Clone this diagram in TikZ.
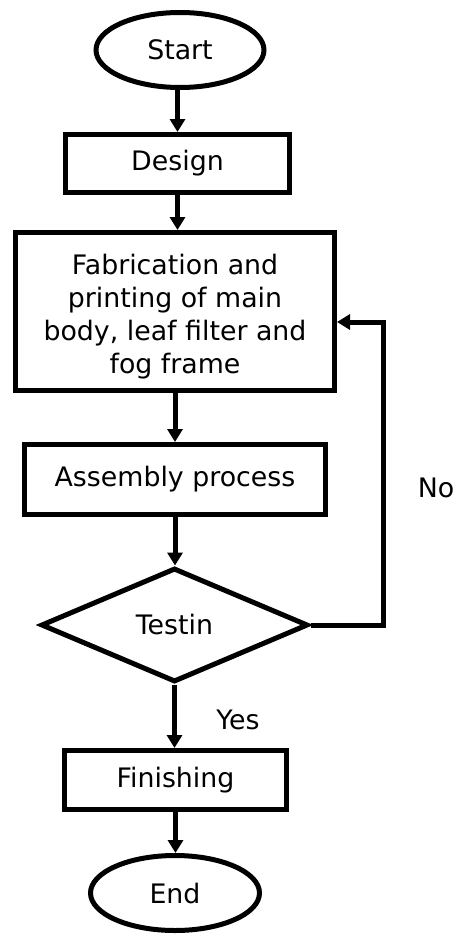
\documentclass[tikz,border=0pt]{standalone}
\usepackage{fontspec}
\setmainfont{DejaVu Sans}
\usetikzlibrary{shapes.geometric,arrows.meta}
\begin{document}
\begin{tikzpicture}[x=1pt,y=-1pt,
  box/.style={font=\fontsize{26.8}{33}\selectfont, inner sep=0pt, line width=5pt, draw=black, align=center, fill=white},
  term/.style={box, ellipse},
  proc/.style={box, rectangle},
  dec/.style={box, diamond},
  lbl/.style={font=\fontsize{26.8}{33}\selectfont, inner sep=0pt},
  conn/.style={line width=5pt, -{Triangle[width=15pt,length=13pt]}},
  ]
\useasboundingbox (0,0) rectangle (457,934);
\node[term, minimum width=168pt, minimum height=75pt] (start) at (180,50) {Start};
\node[proc, minimum width=224pt, minimum height=58pt] (design) at (177.5,163.5) {Design};
\node[proc, minimum width=319pt, minimum height=158pt] (fab) at (175,311.5) {\rule{0pt}{30pt}Fabrication and\\printing of main\\body, leaf filter and\\fog frame};
\node[proc, minimum width=301pt, minimum height=70pt] (asm) at (175,479.5) {Assembly process};
\node[dec, minimum width=267pt, minimum height=114pt] (test) at (174.5,625) {Testin};
\node[proc, minimum width=222pt, minimum height=59pt] (fin) at (175.5,780) {Finishing};
\node[term, minimum width=169pt, minimum height=75pt] (end) at (175,893) {End};
\node[lbl] (no) at (436,488) {No};
\node[lbl] (yes) at (238,720) {Yes};
\coordinate (nc) at (383,322);
\draw[conn] (design.north |- start.south) -- (design.north);
\draw[conn] (design.south) -- (design.south |- fab.north);
\draw[conn] (fab.south) -- (fab.south |- asm.north);
\draw[conn] (asm.south) -- (asm.south |- test.north);
\draw[conn] (test.south) -- (test.south |- fin.north);
\draw[conn] (fin.south) -- (fin.south |- end.north);
\draw[conn] (test.east) -| (nc) -- (fab.east |- nc);
\end{tikzpicture}
\end{document}
